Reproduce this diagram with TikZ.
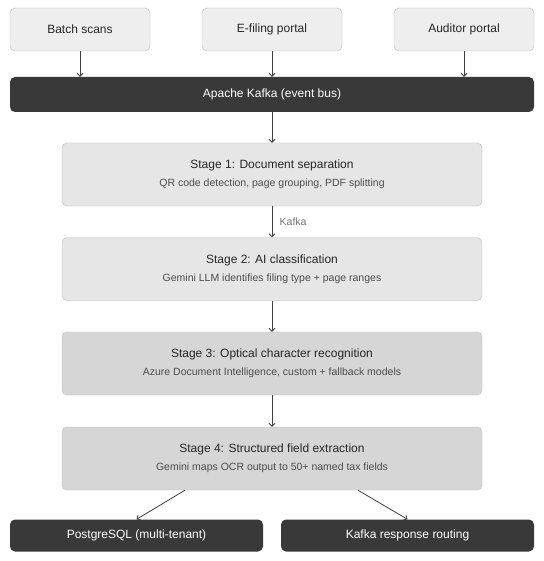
\documentclass[tikz,border=0pt]{standalone}
\usepackage{fontspec}
\setmainfont{Liberation Sans}
\usetikzlibrary{arrows.meta}
\begin{document}
\begin{tikzpicture}[x=1pt, y=-1pt,
  source/.style = {draw = srcline, fill = srcfill, rounded corners = 5pt, minimum width = 140pt, minimum height = 43pt, font = \fontsize{12}{14}\selectfont, text = black!85},
  bus/.style = {fill = busfill, rounded corners = 5pt, minimum width = 524pt, minimum height = 35pt, font = \fontsize{12}{14}\selectfont, text = white},
  stagebox/.style = {draw = srcline, fill = #1, rounded corners = 5pt, minimum width = 420pt, minimum height = 63pt, align = center, font = \fontsize{12}{14}\selectfont, text = black!85},
  sink/.style = {fill = busfill, rounded corners = 5pt, minimum width = 253pt, minimum height = 32pt, font = \fontsize{12}{14}\selectfont, text = white},
  flow/.style = {draw = black!75, line width = 0.8pt, -{Straight Barb[length = 3pt, width = 6pt]}},
  hoplabel/.style = {font = \fontsize{10.5}{12}\selectfont, text = black!55}]
\definecolor{srcfill}{HTML}{EEEEEE}
\definecolor{srcline}{HTML}{BBBBBB}
\definecolor{busfill}{HTML}{393939}
\definecolor{lightstage}{HTML}{E6E6E6}
\definecolor{darkstage}{HTML}{D6D6D6}
\useasboundingbox (0, 0) rectangle (543, 561);
% sources
\node[source] (batch) at (80, 29.5) {Batch scans};
\node[source] (efiling) at (272, 29.5) {E-filing portal};
\node[source] (auditor) at (464, 29.5) {Auditor portal};
% event bus
\node[bus] (kafka) at (272, 94.5) {Apache Kafka (event bus)};
% pipeline stages
\node[stagebox = lightstage] (stage1) at (272, 174.5) {Stage 1: Document separation\\[4pt]{\fontsize{10.5}{12}\selectfont\color{black!70}QR code detection, page grouping, PDF splitting}};
\node[stagebox = lightstage] (stage2) at (272, 269) {Stage 2: AI classification\\[4pt]{\fontsize{10.5}{12}\selectfont\color{black!70}Gemini LLM identifies filing type + page ranges}};
\node[stagebox = darkstage] (stage3) at (272, 363.5) {Stage 3: Optical character recognition\\[4pt]{\fontsize{10.5}{12}\selectfont\color{black!70}Azure Document Intelligence, custom + fallback models}};
\node[stagebox = darkstage] (stage4) at (272, 458.5) {Stage 4: Structured field extraction\\[4pt]{\fontsize{10.5}{12}\selectfont\color{black!70}Gemini maps OCR output to 50+ named tax fields}};
% outputs
\node[sink] (postgres) at (136.5, 535.5) {PostgreSQL (multi-tenant)};
\node[sink] (routing) at (407.5, 535.5) {Kafka response routing};
% connectors
\draw[flow] (batch.south) -- (batch.south |- kafka.north);
\draw[flow] (efiling.south) -- (efiling.south |- kafka.north);
\draw[flow] (auditor.south) -- (auditor.south |- kafka.north);
\draw[flow] (kafka.south) -- (stage1.north);
\draw[flow] (stage1.south) -- node[right, hoplabel, xshift = 4pt] (hop) {Kafka} (stage2.north);
\draw[flow] (stage2.south) -- (stage3.north);
\draw[flow] (stage3.south) -- (stage4.north);
\draw[flow] ([xshift = -87pt]stage4.south) -- (postgres.north);
\draw[flow] ([xshift = 86pt]stage4.south) -- (routing.north);
\end{tikzpicture}
\end{document}
